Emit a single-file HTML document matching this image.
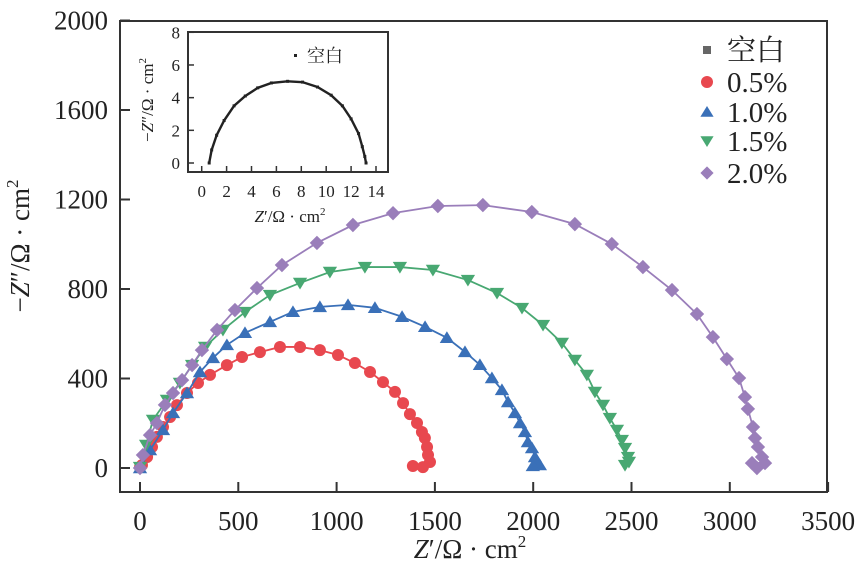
<!DOCTYPE html>
<html><head><meta charset="utf-8"><style>
html,body{margin:0;padding:0;background:#fff;}
svg{display:block;}
svg text, svg tspan{font-family:"Liberation Serif","Noto Serif CJK SC",serif;fill:#222;}
</style></head><body>
<svg id="chart" width="865" height="574" viewBox="0 0 865 574" xmlns="http://www.w3.org/2000/svg" font-family="'Liberation Serif', 'Noto Serif CJK SC', serif">
<g id="main"></g>
<g id="inset"></g>
<g id="legend"></g>
</svg>
<script>
const xTicks=[0,500,1000,1500,2000,2500,3000,3500];
const yTicks=[0,400,800,1200,1600,2000];
const redX=[0,10,36,61,86,117,153,188,239,295,356,442,519,610,712,814,915,1007,1093,1170,1236,1297,1338,1373,1409,1434,1449,1460,1465,1475,1439,1388];
const redY=[4,13,49,94,139,183,228,281,335,380,416,460,496,518,541,541,527,505,469,429,384,340,290,241,201,161,134,94,58,27,4,9];
const blueX=[0,51,117,168,239,305,371,442,534,661,778,915,1058,1195,1333,1450,1561,1653,1729,1790,1841,1872,1907,1933,1958,1973,1994,2009,2019,2034,1998];
const blueY=[0,80,170,246,335,429,492,550,604,653,698,720,729,716,676,631,582,519,461,402,349,295,246,201,161,116,89,49,22,13,9];
const greenX=[0,31,66,137,203,265,331,422,534,661,814,966,1144,1322,1490,1668,1816,1943,2050,2146,2212,2273,2314,2355,2390,2426,2451,2467,2482,2487,2467];
const greenY=[4,103,215,304,380,460,541,617,697,773,827,876,898,898,885,840,782,715,639,559,483,416,340,282,223,170,125,89,49,27,13];
const purpleX=[0,15,51,86,127,168,214,265,315,392,483,595,722,900,1083,1287,1515,1744,1993,2212,2400,2558,2706,2833,2914,2985,3047,3077,3092,3118,3128,3143,3164,3179,3113,3138];
const purpleY=[0,58,147,201,282,335,393,460,527,617,706,804,907,1006,1086,1139,1171,1175,1144,1090,1001,898,795,688,585,487,402,317,264,183,134,94,49,22,22,0];
const insetXTicks=[0,2,4,6,8,10,12,14];
const insetYTicks=[0,2,4,6,8];
const blankX=[0.6,0.8,1.2,1.8,2.6,3.5,4.5,5.6,6.9,8.1,9.3,10.4,11.3,12.0,12.6,12.9,13.1,13.2];
const blankY=[0,0.8,1.7,2.6,3.5,4.1,4.6,4.9,5.0,4.95,4.65,4.15,3.5,2.7,1.8,1.0,0.4,0];
const legendLabels=["空白","0.5%","1.0%","1.5%","2.0%"];

const NS="http://www.w3.org/2000/svg";
const FF="'Liberation Serif', 'Noto Serif CJK SC', serif";
function mk(tag,attrs,parent){const e=document.createElementNS(NS,tag);for(const k in attrs)e.setAttribute(k,attrs[k]);if(tag==='text')e.setAttribute('font-family',FF);parent.appendChild(e);return e;}
const L=120,R=827,T=21,B=492;
const sx=v=>140+v*(98.3/500);
const sy=v=>468-v*(358/1600);
const main=document.getElementById('main');
let fr=mk('rect',{x:L,y:T,width:R-L,height:B-T,fill:'none',stroke:'#333','stroke-width':2},main);


xTicks.forEach(v=>{
  const l=mk('line',{x1:sx(v),x2:sx(v),y1:B,y2:B-10,stroke:'#333','stroke-width':2},main);
  
  
  const t=mk('text',{x:sx(v),y:530,'text-anchor':'middle','font-size':27},main);t.textContent=v;
  
  
});
yTicks.forEach(v=>{
  const l=mk('line',{x1:L,x2:L+10,y1:sy(v),y2:sy(v),stroke:'#333','stroke-width':2},main);
  
  
  const t=mk('text',{x:108,y:sy(v)+9,'text-anchor':'end','font-size':27},main);t.textContent=v;
  
  
});
let xt=mk('text',{x:470,y:558,'text-anchor':'middle','font-size':27},main);
xt.innerHTML='<tspan font-style="italic">Z</tspan>′/Ω · cm<tspan font-size="17" dy="-11">2</tspan>';


let yt=mk('text',{x:0,y:0,'text-anchor':'middle','font-size':27,transform:'translate(29,246) rotate(-90)'},main);
yt.innerHTML='−<tspan font-style="italic">Z</tspan>″/Ω · cm<tspan font-size="17" dy="-11">2</tspan>';



function marker(shape,x,y,r,color,parent){
  let e;
  if(shape==='circle')e=mk('circle',{cx:x,cy:y,r:r,fill:color},parent);
  else if(shape==='up')e=mk('polygon',{points:`${x},${y-r} ${x+r*1.1},${y+r*0.8} ${x-r*1.1},${y+r*0.8}`,fill:color},parent);
  else if(shape==='down')e=mk('polygon',{points:`${x},${y+r} ${x+r*1.1},${y-r*0.8} ${x-r*1.1},${y-r*0.8}`,fill:color},parent);
  else if(shape==='diamond')e=mk('polygon',{points:`${x},${y-r*1.2} ${x+r*1.2},${y} ${x},${y+r*1.2} ${x-r*1.2},${y}`,fill:color},parent);
  else e=mk('rect',{x:x-r,y:y-r,width:2*r,height:2*r,fill:color},parent);
  return e;
}
const series=[
  {name:'series-0-5',xs:redX,ys:redY,color:'#e8484f',shape:'circle',r:6},
  {name:'series-1-0',xs:blueX,ys:blueY,color:'#3a70b8',shape:'up',r:6.5},
  {name:'series-1-5',xs:greenX,ys:greenY,color:'#48a872',shape:'down',r:6.5},
  {name:'series-2-0',xs:purpleX,ys:purpleY,color:'#9a7eba',shape:'diamond',r:6}
];
series.forEach(s=>{
  const g=mk('g',{},main);
  
  
  const pts=s.xs.map((v,i)=>sx(v)+','+sy(s.ys[i])).join(' ');
  const pl=mk('polyline',{points:pts,fill:'none',stroke:s.color,'stroke-width':1.8},g);
  
  
  s.xs.forEach((v,i)=>{
    const m=marker(s.shape,sx(v),sy(s.ys[i]),s.r,s.color,g);
    
    
  });
});

// inset
const inset=document.getElementById('inset');
const iL=188,iR=388,iT=32,iB=172;
const ix=v=>201.7+v*(174.3/14);
const iy=v=>163-v*(130.7/8);
mk('rect',{x:iL,y:iT,width:iR-iL,height:iB-iT,fill:'#fff',stroke:'#333','stroke-width':2},inset);
insetXTicks.forEach(v=>{
  const l=mk('line',{x1:ix(v),x2:ix(v),y1:iB,y2:iB-6,stroke:'#333','stroke-width':1.5},inset);
  
  
  const t=mk('text',{x:ix(v),y:197,'text-anchor':'middle','font-size':17},inset);t.textContent=v;
  
  
});
insetYTicks.forEach(v=>{
  const l=mk('line',{x1:iL,x2:iL+6,y1:iy(v),y2:iy(v),stroke:'#333','stroke-width':1.5},inset);
  
  
  const t=mk('text',{x:180,y:iy(v)+6,'text-anchor':'end','font-size':17},inset);t.textContent=v;
  
  
});
const ipl=mk('polyline',{points:blankX.map((v,i)=>ix(v)+','+iy(blankY[i])).join(' '),fill:'none',stroke:'#222','stroke-width':2.4},inset);


blankX.forEach((v,i)=>{
  const m=mk('rect',{x:ix(v)-1.5,y:iy(blankY[i])-1.5,width:3,height:3,fill:'#222'},inset);
  
  
});
let ixt=mk('text',{x:290,y:222,'text-anchor':'middle','font-size':17},inset);
ixt.innerHTML='<tspan font-style="italic">Z</tspan>′/Ω · cm<tspan font-size="11" dy="-7">2</tspan>';


let iyt=mk('text',{x:0,y:0,'text-anchor':'middle','font-size':17,transform:'translate(153,100) rotate(-90)'},inset);
iyt.innerHTML='−<tspan font-style="italic">Z</tspan>″/Ω · cm<tspan font-size="11" dy="-7">2</tspan>';


mk('rect',{x:294,y:54,width:3,height:3,fill:'#222'},inset);
let il=mk('text',{x:307,y:62,'font-size':18},inset);il.textContent='空白';



// legend
const legend=document.getElementById('legend');
const legY=[50,82,112,141,173];
const legShapes=[['square','#666',4],['circle','#e8484f',6],['up','#3a70b8',6],['down','#48a872',6],['diamond','#9a7eba',5.5]];
legendLabels.forEach((lab,i)=>{
  const g=mk('g',{},legend);
  
  
  marker(legShapes[i][0],707,legY[i],legShapes[i][2],legShapes[i][1],g);
  const t=mk('text',{x:727,y:legY[i]+10,'font-size':29},g);t.textContent=lab;
});
</script>
</body></html>
